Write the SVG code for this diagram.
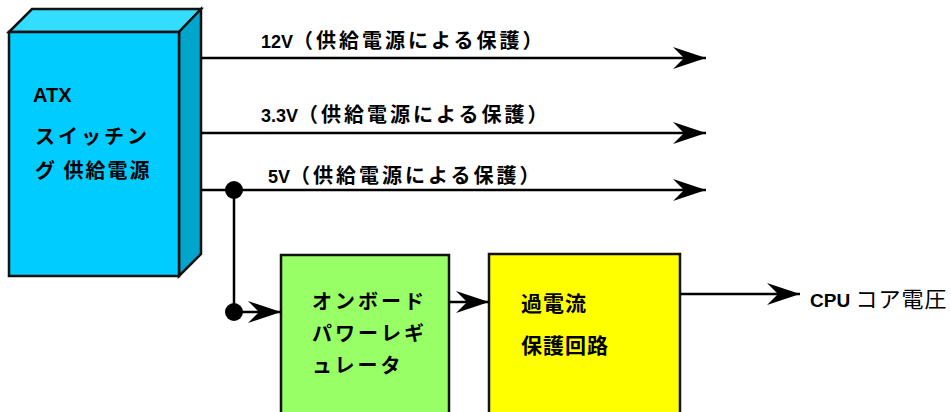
<svg xmlns="http://www.w3.org/2000/svg" width="951" height="412" viewBox="0 0 951 412">
<style>
.box{stroke:#111;stroke-width:2.5;stroke-linejoin:miter}
.ln{stroke:#000;stroke-width:2.5;fill:none}
.lbl{font-family:"Liberation Sans","Noto Sans CJK JP",sans-serif;font-weight:bold;font-size:18px;fill:#000}
.lj{font-family:"Noto Sans CJK JP",sans-serif;font-size:20px;letter-spacing:3px}
.jp{font-family:"Noto Sans CJK JP",sans-serif;font-weight:bold;font-size:20px;fill:#000;letter-spacing:3px}
</style>
<defs>
<marker id="ah" markerWidth="34" markerHeight="24" refX="33" refY="12" markerUnits="userSpaceOnUse" orient="auto">
<path d="M33,12 L0,1 L11,12 L0,23 Z" fill="#000"/>
</marker>
</defs>
<g id="atx">
<polygon class="box" points="9,32 32,9 201,9 179,32" fill="#33DDFF"/>
<polygon class="box" points="179,32 201,9 201,254 179,276" fill="#00A5CC"/>
<rect class="box" x="9" y="32" width="170" height="244" fill="#00CCFF"/>
<text class="lbl" x="33" y="102" style="font-size:20px">ATX</text>
<text class="jp" x="35" y="144">スイッチン</text>
<text class="jp" x="35" y="178" style="letter-spacing:2px">グ 供給電源</text>
</g>
<g id="regulator">
<rect class="box" x="281" y="255" width="168" height="170" fill="#99FF66"/>
<text class="jp" x="312" y="309">オンボード</text>
<text class="jp" x="312" y="341">パワーレギ</text>
<text class="jp" x="312" y="373">ュレータ</text>
</g>
<g id="protection">
<rect class="box" x="489" y="254" width="191" height="170" fill="#FFFF00"/>
<text class="jp" x="521" y="311" style="font-size:21px;letter-spacing:1px">過電流</text>
<text class="jp" x="521" y="353" style="font-size:21px;letter-spacing:1px">保護回路</text>
</g>
<g id="connectors">
<line class="ln" x1="201" y1="58" x2="706" y2="58" marker-end="url(#ah)"/>
<line class="ln" x1="201" y1="133" x2="706" y2="133" marker-end="url(#ah)"/>
<line class="ln" x1="201" y1="190" x2="706" y2="190" marker-end="url(#ah)"/>
<polyline class="ln" points="234,190 234,312 281,312" marker-end="url(#ah)"/>
<line class="ln" x1="449" y1="302" x2="489" y2="302" marker-end="url(#ah)"/>
<line class="ln" x1="680" y1="294" x2="800" y2="294" marker-end="url(#ah)"/>
<circle cx="234" cy="190" r="9" fill="#000"/>
<circle cx="234" cy="312" r="9" fill="#000"/>
</g>
<g id="labels">
<text class="lbl" x="261" y="48">12V<tspan class="lj">（供給電源による保護）</tspan></text>
<text class="lbl" x="261" y="122">3.3V<tspan class="lj">（供給電源による保護）</tspan></text>
<text class="lbl" x="268" y="183">5V<tspan class="lj">（供給電源による保護）</tspan></text>
<text class="lbl" x="810" y="307" style="font-size:19px">CPU <tspan style="font-weight:normal;font-size:22px;letter-spacing:1px">コア電圧</tspan></text>
</g>
</svg>
